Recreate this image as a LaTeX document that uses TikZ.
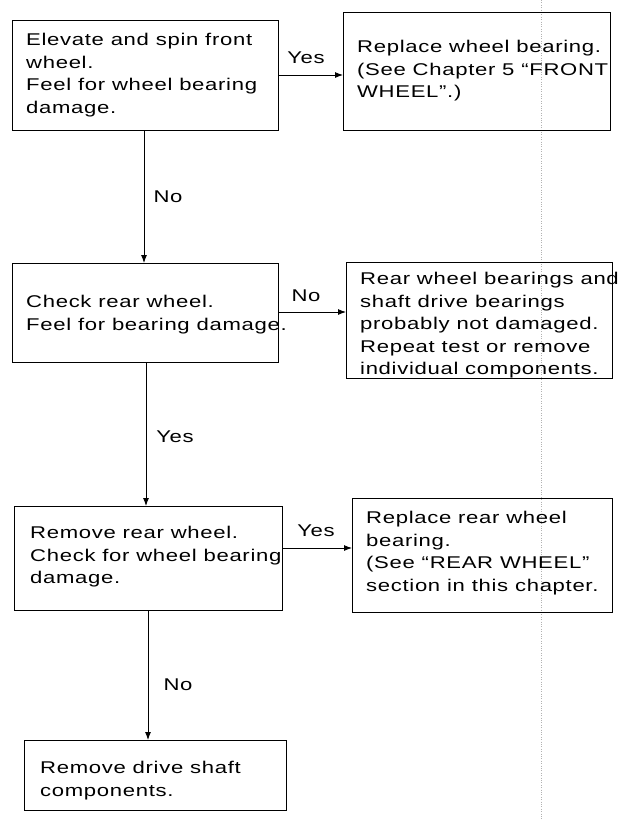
\documentclass[tikz,border=0pt]{standalone}
\usepackage{fontspec}
\usetikzlibrary{arrows.meta}
\setmainfont{Liberation Sans}[FakeStretch=1.3,LetterSpace=4]
\begin{document}
\begin{tikzpicture}[x=1pt,y=-1pt,
  arr/.style={line width=0.9pt,-{Latex[length=8pt,width=6pt]}},
  lab/.style={font=\fontsize{17}{20}\selectfont},
  t/.style={font=\fontsize{17}{22.5}\selectfont,align=left,anchor=north west,inner sep=0pt}]
\useasboundingbox (0,0) rectangle (623,820);
\fill[white] (0,0) rectangle (623,820);
\draw[gray!60,dotted] (541,0) -- (541,820);
% boxes
\draw[line width=1pt] (12,20) rectangle (278,130);
\node[t] (t1) at (26,33) {Elevate and spin front\\wheel.\\Feel for wheel bearing\\damage.};
\draw[line width=1pt] (343,12) rectangle (610,130);
\node[t] (t2) at (357,40) {Replace wheel bearing.\\(See Chapter 5 ``FRONT\\WHEEL''.)};
\draw[line width=1pt] (12,263) rectangle (278,362);
\node[t] (t3) at (26,295) {Check rear wheel.\\Feel for bearing damage.};
\draw[line width=1pt] (346,262) rectangle (612,378);
\node[t] (t4) at (360,272) {Rear wheel bearings and\\shaft drive bearings\\probably not damaged.\\Repeat test or remove\\individual components.};
\draw[line width=1pt] (14,506) rectangle (282,610);
\node[t] (t5) at (30,526) {Remove rear wheel.\\Check for wheel bearing\\damage.};
\draw[line width=1pt] (352,498) rectangle (612,612);
\node[t] (t6) at (366,511) {Replace rear wheel\\bearing.\\(See ``REAR WHEEL''\\section in this chapter.};
\draw[line width=1pt] (24,740) rectangle (286,810);
\node[t] (t7) at (40,761) {Remove drive shaft\\components.};
% connectors
\coordinate (a1) at (278,75); \coordinate (a2) at (343,75);
\coordinate (d1) at (144,130); \coordinate (d2) at (144,263);
\coordinate (a3) at (278,312); \coordinate (a4) at (346,312);
\coordinate (d3) at (146,362); \coordinate (d4) at (146,506);
\coordinate (a5) at (282,548); \coordinate (a6) at (352,548);
\coordinate (d5) at (148,610); \coordinate (d6) at (148,740);
\draw[arr] (a1) -- (a2);
\draw[arr] (d1) -- (d2);
\draw[arr] (a3) -- (a4);
\draw[arr] (d3) -- (d4);
\draw[arr] (a5) -- (a6);
\draw[arr] (d5) -- (d6);
\node[lab] (l1) at (306,58) {Yes};
\node[lab] (l2) at (168,197) {No};
\node[lab] (l3) at (306,296) {No};
\node[lab] (l4) at (175,437) {Yes};
\node[lab] (l5) at (316,531) {Yes};
\node[lab] (l6) at (178,685) {No};
\end{tikzpicture}
\end{document}
